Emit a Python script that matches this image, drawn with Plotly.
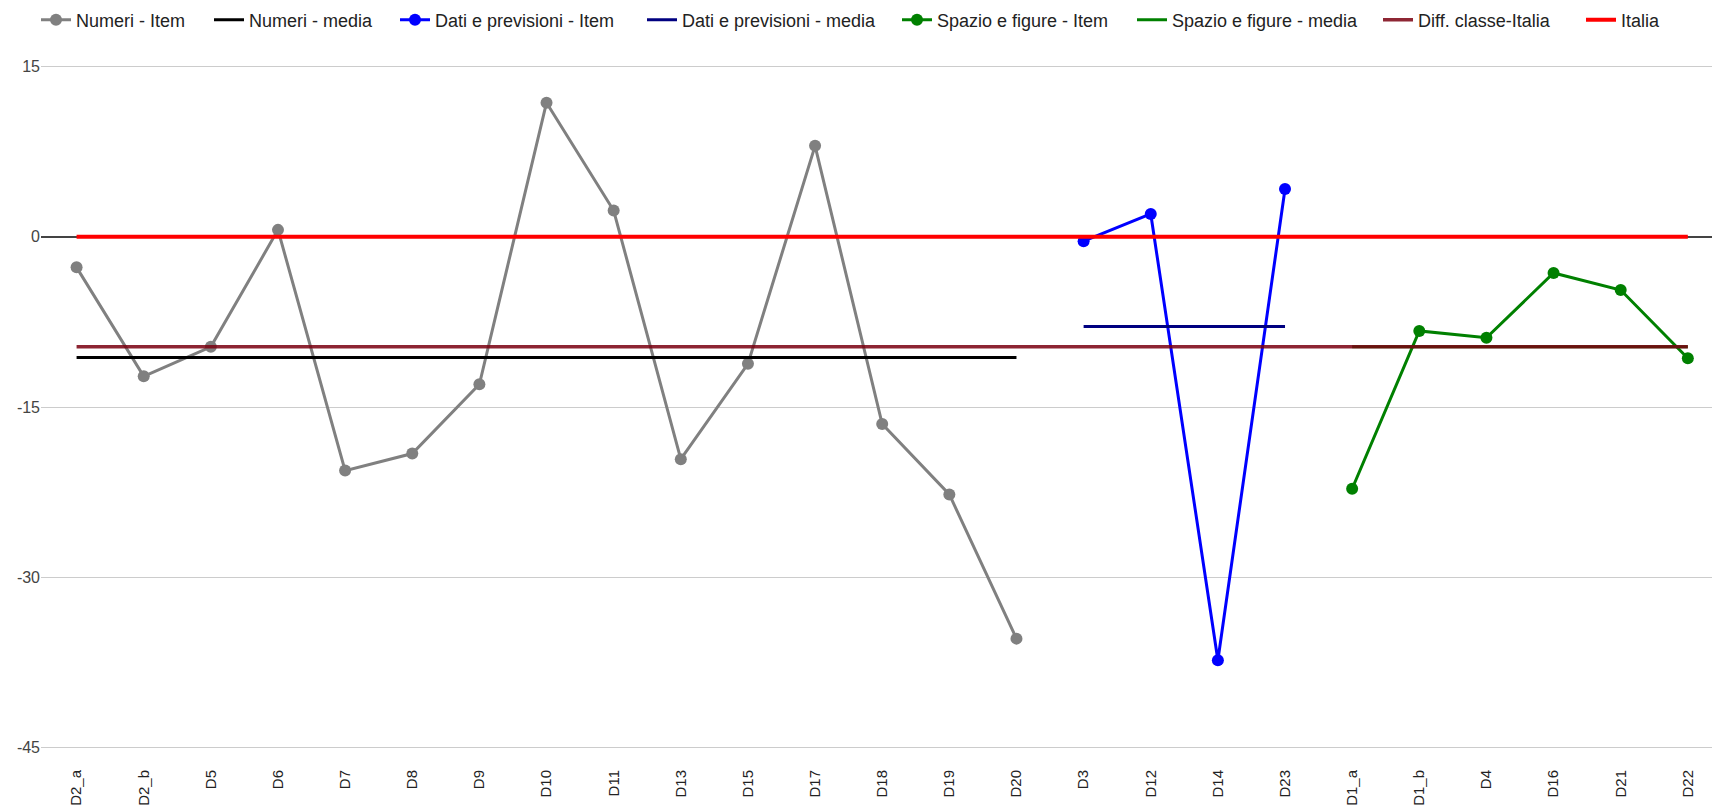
import plotly.graph_objects as go

categories = ["D2_a", "D2_b", "D5", "D6", "D7", "D8", "D9", "D10", "D11", "D13", "D15",
              "D17", "D18", "D19", "D20", "D3", "D12", "D14", "D23",
              "D1_a", "D1_b", "D4", "D16", "D21", "D22"]

numeri_cats = categories[0:15]
numeri_vals = [-2.7, -12.3, -9.7, 0.6, -20.6, -19.1, -13.0, 11.8, 2.3, -19.6, -11.2, 8.0, -16.5, -22.7, -35.4]
numeri_media = -10.65

dati_cats = categories[15:19]
dati_vals = [-0.4, 2.0, -37.3, 4.2]
dati_media = -7.9

spazio_cats = categories[19:25]
spazio_vals = [-22.2, -8.3, -8.9, -3.2, -4.7, -10.7]
spazio_media = -9.7

diff_classe_italia = -9.7
italia = 0.0

y_ticks = [15, 0, -15, -30, -45]

FONT = "Liberation Sans, Arial, sans-serif"
W, H = 1712, 809

fig = go.Figure()

def item(name, cats, vals, color, leg):
    fig.add_trace(go.Scatter(x=cats, y=vals, name=name, mode="lines+markers",
                             line=dict(color=color, width=3),
                             marker=dict(color=color, size=12),
                             legend=leg))

def media(name, cats, val, color, width, leg, opacity=1.0):
    fig.add_trace(go.Scatter(x=[cats[0], cats[-1]], y=[val, val], name=name, mode="lines",
                             line=dict(color=color, width=width), opacity=opacity,
                             legend=leg))

item("Numeri - Item", numeri_cats, numeri_vals, "#808080", "legend")
media("Numeri - media", numeri_cats, numeri_media, "#000000", 3, "legend2")
item("Dati e previsioni - Item", dati_cats, dati_vals, "#0000ff", "legend3")
media("Dati e previsioni - media", dati_cats, dati_media, "#000080", 3, "legend4")
item("Spazio e figure - Item", spazio_cats, spazio_vals, "#008000", "legend5")
media("Spazio e figure - media", spazio_cats, spazio_media, "#008000", 3, "legend6")
media("Diff. classe-Italia", categories, diff_classe_italia, "#7a0010", 3.5, "legend7", 0.85)
media("Italia", categories, italia, "#ff0000", 4, "legend8")

icon_px = [41, 214, 400, 647, 902, 1137, 1383, 1586]
leg_names = ["legend"] + ["legend%d" % i for i in range(2, 9)]
legend_cfg = {}
for nm, px in zip(leg_names, icon_px):
    legend_cfg[nm] = dict(xref="container", yref="container",
                          x=(px - 5) / W, y=1 - 20 / H,
                          xanchor="left", yanchor="middle",
                          orientation="h", bgcolor="rgba(0,0,0,0)",
                          font=dict(family=FONT, size=18, color="#222222"))

fig.update_layout(
    width=W, height=H,
    paper_bgcolor="white", plot_bgcolor="white",
    margin=dict(l=41, r=0, t=65, b=60, autoexpand=False),
    font=dict(family=FONT, color="#444444"),
    showlegend=True,
    **legend_cfg,
)

fig.update_xaxes(type="category", categoryorder="array", categoryarray=categories,
                 range=[-0.53, 24.36], showgrid=False, showline=False, zeroline=False,
                 automargin=False,
                 tickangle=-90, tickfont=dict(family=FONT, size=15, color="#222222"),
                 ticks="outside", ticklen=14, tickcolor="rgba(0,0,0,0)")

fig.update_yaxes(range=[-45.12, 15.12], tickvals=y_ticks, ticktext=[str(v) for v in y_ticks],
                 showgrid=True, gridcolor="#cccccc", gridwidth=1,
                 zeroline=True, zerolinecolor="#444444", zerolinewidth=2,
                 automargin=False,
                 showline=False, tickfont=dict(family=FONT, size=16, color="#444444"),
                 ticks="", fixedrange=True)

fig.write_html("out.html",
               config={"displayModeBar": False},
               post_script="document.body.style.margin='0';document.body.style.overflow='hidden';")
